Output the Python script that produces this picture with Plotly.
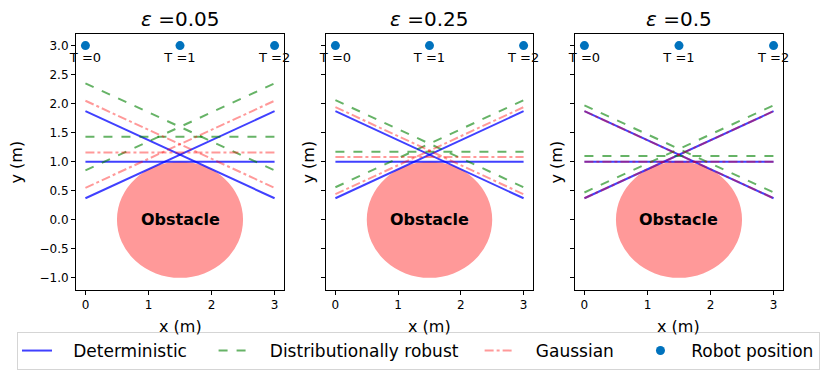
import plotly.graph_objects as go

# one panel per risk level
EPSILONS = ["0.05", "0.25", "0.5"]

# trajectories of the three other agents, x goes from 0 to 3
X_PATH = [0, 3]
DET_START = [[1.87, 1.0, 0.37], [1.87, 1.0, 0.37], [1.87, 1.0, 0.37]]
DR_START = [[2.35, 1.43, 0.85], [2.06, 1.17, 0.56], [1.97, 1.10, 0.47]]
GAUSS_START = [[2.05, 1.16, 0.55], [1.94, 1.08, 0.44], [1.87, 1.0, 0.37]]

# robot positions along the top
ROBOT_X = [0, 1.5, 3]
ROBOT_Y = [3.0, 3.0, 3.0]
ROBOT_LABELS = ["T =0", "T =1", "T =2"]

# obstacle (circle)
OBSTACLE_CENTER = (1.5, 0.0)
OBSTACLE_RADIUS = 1.0

FONT = "DejaVu Sans"
BLUE = "rgba(0,0,255,0.75)"
GREEN = "rgba(0,128,0,0.6)"
PINK = "rgba(255,0,0,0.4)"
ROBOT = "#0072bd"

# the page body adds an 8px margin, so the figure is 8px smaller than the window
W, H = 823, 373
X_DOMAINS = [[0.0826, 0.3354], [0.3864, 0.6379], [0.6889, 0.9417]]
Y_DOMAIN = [0.2440, 0.9303]
YLABEL_SHIFT = [-48, -7, -7]

NB = "\u00a0"  # pad legend names so entries spread like the original legend

fig = go.Figure()


def add_paths(starts, i, name, label, color, dash, show):
    for k, y0 in enumerate(starts):
        y1 = starts[len(starts) - 1 - k]
        fig.add_trace(go.Scatter(
            x=X_PATH, y=[y0, y1], mode="lines",
            line=dict(color=color, width=2, dash=dash),
            name=label, legendgroup=name, showlegend=show and k == 0,
            xaxis=f"x{i + 1}", yaxis=f"y{i + 1}",
        ))


for i, eps in enumerate(EPSILONS):
    add_paths(DET_START[i], i, "det", NB * 3 + "Deterministic" + NB * 4,
              BLUE, "solid", i == 0)
    add_paths(DR_START[i], i, "dr", NB * 3 + "Distributionally robust" + NB * 3,
              GREEN, "dash", i == 0)
    add_paths(GAUSS_START[i], i, "gauss", NB * 3 + "Gaussian" + NB * 4,
              PINK, "dashdot", i == 0)
    fig.add_trace(go.Scatter(
        x=ROBOT_X, y=ROBOT_Y, mode="markers+text",
        marker=dict(color=ROBOT, size=9),
        text=ROBOT_LABELS, textposition="bottom center",
        textfont=dict(size=13, color="black", family=FONT),
        cliponaxis=False,
        name=NB * 2 + "Robot position", showlegend=(i == 0),
        xaxis=f"x{i + 1}", yaxis=f"y{i + 1}",
    ))

    cx, cy = OBSTACLE_CENTER
    fig.add_shape(
        type="circle", xref=f"x{i + 1}", yref=f"y{i + 1}",
        x0=cx - OBSTACLE_RADIUS, x1=cx + OBSTACLE_RADIUS,
        y0=cy - OBSTACLE_RADIUS, y1=cy + OBSTACLE_RADIUS,
        fillcolor="#ff9999", line_width=0, layer="below",
    )
    fig.add_annotation(
        x=cx, y=cy, xref=f"x{i + 1}", yref=f"y{i + 1}", text="<b>Obstacle</b>",
        showarrow=False, font=dict(size=16, color="black", family=FONT),
    )

    # title and axis titles
    d = X_DOMAINS[i]
    xm = (d[0] + d[1]) / 2
    fig.add_annotation(
        x=xm, y=Y_DOMAIN[1], xref="paper", yref="paper",
        xanchor="center", yanchor="middle", borderpad=0,
        yshift=15, text=f"<i>ε</i> ={eps}", showarrow=False,
        font=dict(size=20, color="black", family=FONT),
    )
    fig.add_annotation(
        x=xm, y=Y_DOMAIN[0], xref="paper", yref="paper",
        xanchor="center", yanchor="middle", borderpad=0,
        yshift=-37, text="x (m)", showarrow=False,
        font=dict(size=16, color="black", family=FONT),
    )
    fig.add_annotation(
        x=d[0], y=(Y_DOMAIN[0] + Y_DOMAIN[1]) / 2, xref="paper", yref="paper",
        xanchor="right", yanchor="middle", xshift=YLABEL_SHIFT[i], text="y (m)",
        textangle=-90, showarrow=False, borderpad=0,
        font=dict(size=16, color="black", family=FONT),
    )

    axis_common = dict(
        showline=True, mirror=True, linecolor="black", linewidth=1,
        ticks="outside", ticklen=4, tickcolor="black", showgrid=False,
        zeroline=False, automargin=False,
        tickfont=dict(size=12, color="black", family=FONT),
    )
    fig.update_layout({
        f"xaxis{i + 1}": dict(
            domain=d, range=[-0.15, 3.15], tickvals=[0, 1, 2, 3],
            anchor=f"y{i + 1}", **axis_common,
        ),
        f"yaxis{i + 1}": dict(
            domain=Y_DOMAIN, range=[-1.21, 3.2],
            tickvals=[-1.0, -0.5, 0.0, 0.5, 1.0, 1.5, 2.0, 2.5, 3.0],
            tickformat=".1f", showticklabels=(i == 0),
            anchor=f"x{i + 1}", **axis_common,
        ),
    })

fig.update_layout(
    width=W, height=H,
    margin=dict(l=0, r=0, t=0, b=0),
    paper_bgcolor="white", plot_bgcolor="white",
    font=dict(family=FONT, color="black"),
    legend=dict(
        orientation="h", x=9 / W, xanchor="left", y=11 / H,
        yanchor="bottom", bordercolor="#d5d5d5", borderwidth=1,
        font=dict(size=17, family=FONT, color="black"),
    ),
)

fig.write_html("out.html")
